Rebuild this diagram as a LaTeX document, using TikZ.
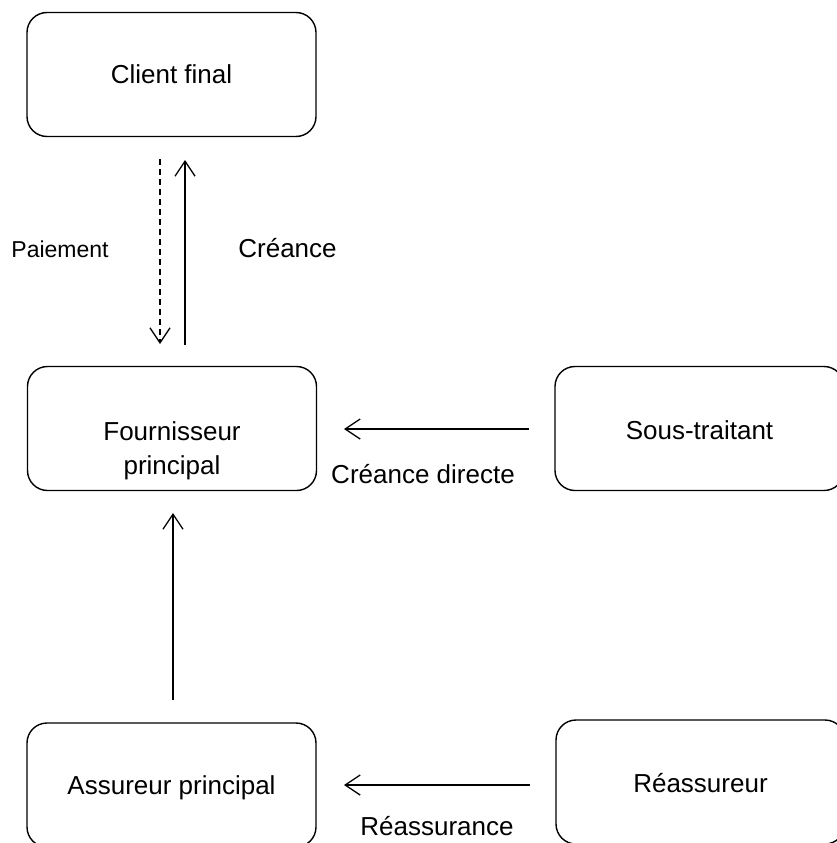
\documentclass[tikz,border=0pt]{standalone}
\usepackage{fontspec}
\setmainfont{Liberation Sans}
\usetikzlibrary{arrows.meta}
\begin{document}
\begin{tikzpicture}[x=1pt,y=-1pt,
  box/.style={draw, line width=1.4pt, rounded corners=20pt, minimum width=289pt, minimum height=124pt, inner sep=0pt},
  txt/.style={font=\fontsize{26}{34}\selectfont, align=center, inner sep=0pt},
  lbl/.style={font=\fontsize{26}{30}\selectfont, inner sep=0pt, anchor=base},
  smalllbl/.style={font=\fontsize{23}{28}\selectfont, inner sep=0pt, anchor=base},
  arr/.style={line width=1.3pt, -{Straight Barb[length=15pt,width=20pt,line width=1.3pt]}},
  dasharr/.style={arr, dash pattern=on 6pt off 4pt}
]
\useasboundingbox (0,0) rectangle (837,843);
\clip (0,0) rectangle (837,843);

% boxes
\node[box] (cf) at (171.5,74.5) {};
\node[box] (fp) at (172,428.5) {};
\node[box] (st) at (699.5,428.5) {};
\node[box] (ap) at (171.5,785) {};
\node[box] (ra) at (700.5,782) {};

% box texts
\node[txt, anchor=base] (cft) at (171.5,83) {Client final};
\node[txt] (fpt) at (172,451) {Fournisseur\\principal};
\node[txt, anchor=base] (stt) at (699.5,439) {Sous-traitant};
\node[txt, anchor=base] (apt) at (171.5,794) {Assureur principal};
\node[txt, anchor=base] (rat) at (700.5,792) {Réassureur};

% connector ends
\coordinate (payA) at (160,159);
\coordinate (payB) at (160,344);
\coordinate (creA) at (185,345);
\coordinate (creB) at (185,160);
\coordinate (upA) at (173,700);
\coordinate (upB) at (173,513);
\coordinate (sdA) at (529,429);
\coordinate (sdB) at (344,429);
\coordinate (reA) at (530,785);
\coordinate (reB) at (344,785);

% connectors
\draw[dasharr] (payA) -- (payB);
\draw[arr] (creA) -- (creB);
\draw[arr] (upA) -- (upB);
\draw[arr] (sdA) -- (sdB);
\draw[arr] (reA) -- (reB);

% labels
\node[smalllbl] (lpay) at (60,257) {Paiement};
\node[lbl] (lcre) at (287.5,257) {Créance};
\node[lbl] (lcd) at (423,483) {Créance directe};
\node[lbl] (lre) at (437,835) {Réassurance};
\end{tikzpicture}
\end{document}
